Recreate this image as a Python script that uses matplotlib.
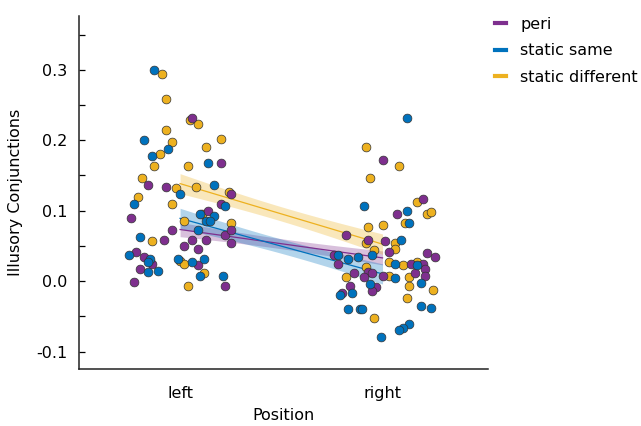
import numpy as np
import matplotlib
matplotlib.use("Agg")
import matplotlib.pyplot as plt
from matplotlib.lines import Line2D

plt.rcParams['font.family'] = ['DejaVu Sans']
plt.rcParams['axes.unicode_minus'] = False

positions = ['left', 'right']
conditions = ['peri', 'static same', 'static different']
colors = {'peri': '#7E2F8E', 'static same': '#0072BD', 'static different': '#EDB120'}

# values: (jitter offset, value) for each subject
peri_left_x = [0.06, 0.20, -0.16, -0.07, 0.25, 0.20, -0.24, 0.14, -0.04, -0.08, 0.22, 0.25,
               0.25, 0.02, 0.06, 0.13, 0.09, 0.09, -0.22, -0.18, -0.14, -0.20, -0.23, 0.22]
peri_left_y = [0.231, 0.167, 0.136, 0.134, 0.124, 0.110, 0.089, 0.099, 0.073, 0.058, 0.066, 0.073,
               0.054, 0.050, 0.059, 0.059, 0.045, 0.023, 0.041, 0.034, 0.025, 0.017, -0.001, -0.007]
peri_right_x = [0.00, 0.20, 0.07, -0.18, -0.07, 0.01, 0.03, 0.22, 0.26, -0.24, -0.22, 0.14, 0.20,
                0.21, 0.21, 0.16, 0.00, -0.07, -0.05, -0.14, -0.09, -0.03, -0.05, -0.16, -0.20]
peri_right_y = [0.172, 0.116, 0.095, 0.065, 0.058, 0.057, 0.042, 0.040, 0.034, 0.037, 0.024, 0.024,
                0.024, 0.017, 0.008, 0.011, 0.007, 0.013, 0.011, 0.011, 0.006, -0.008, -0.014,
                -0.007, -0.017]

same_left_x = [-0.13, -0.18, -0.14, -0.06, 0.14, 0.17, 0.00, 0.22, -0.23, 0.10, 0.17, 0.13, 0.15,
               0.09, -0.20, -0.25, -0.15, -0.16, -0.16, -0.11, -0.01, 0.06, 0.12, 0.10, 0.21]
same_left_y = [0.300, 0.200, 0.177, 0.188, 0.168, 0.136, 0.124, 0.106, 0.110, 0.096, 0.093, 0.085,
               0.085, 0.072, 0.062, 0.037, 0.032, 0.027, 0.013, 0.014, 0.031, 0.027, 0.031, 0.007,
               0.007]
same_right_x = [0.12, -0.09, 0.12, 0.13, 0.09, -0.22, -0.17, -0.12, -0.05, 0.06, 0.17, 0.06, -0.06,
                0.19, -0.15, -0.21, -0.17, -0.11, -0.10, 0.19, 0.24, 0.13, 0.10, 0.08, -0.01]
same_right_y = [0.232, 0.106, 0.100, 0.083, 0.058, 0.037, 0.031, 0.034, 0.037, 0.024, 0.023, 0.004,
                -0.004, -0.003, -0.017, -0.020, -0.040, -0.040, -0.040, -0.035, -0.038, -0.061,
                -0.066, -0.069, -0.079]

diff_left_x = [-0.09, -0.07, 0.05, 0.09, -0.07, -0.04, 0.20, 0.13, -0.10, -0.13, 0.04, -0.19, -0.02,
               0.08, -0.21, 0.24, -0.04, 0.11, 0.02, 0.25, -0.14, 0.00, 0.02, 0.12, 0.04]
diff_left_y = [0.294, 0.259, 0.229, 0.223, 0.215, 0.198, 0.202, 0.190, 0.181, 0.163, 0.163, 0.146,
               0.132, 0.133, 0.119, 0.127, 0.110, 0.095, 0.085, 0.083, 0.057, 0.028, 0.025, 0.011,
               -0.007]
diff_right_x = [-0.08, 0.08, -0.06, 0.17, 0.11, 0.22, 0.24, -0.07, 0.00, -0.08, 0.06, 0.06, -0.04,
                0.03, 0.10, 0.17, -0.08, 0.13, 0.03, -0.18, 0.13, 0.25, 0.12, -0.04]
diff_right_y = [0.190, 0.163, 0.146, 0.112, 0.083, 0.096, 0.098, 0.077, 0.079, 0.054, 0.054, 0.045,
                0.044, 0.027, 0.023, 0.027, 0.020, 0.006, 0.007, 0.006, -0.007, -0.013, -0.024,
                -0.052]

data = {
    'peri': [(peri_left_x, peri_left_y), (peri_right_x, peri_right_y)],
    'static same': [(same_left_x, same_left_y), (same_right_x, same_right_y)],
    'static different': [(diff_left_x, diff_left_y), (diff_right_x, diff_right_y)],
}

fig = plt.figure(figsize=(6.41, 4.26), dpi=100)
ax = fig.add_axes([0.123, 0.134, 0.638, 0.828])

# regression lines with +-1 SE band, fitted on category codes
xs = np.linspace(0, 1, 50)
for cond in conditions:
    xc = np.concatenate([np.zeros(len(data[cond][0][1])), np.ones(len(data[cond][1][1]))])
    yv = np.concatenate([data[cond][0][1], data[cond][1][1]])
    b, a = np.polyfit(xc, yv, 1)
    resid = yv - (a + b * xc)
    s = np.sqrt(np.sum(resid ** 2) / (len(yv) - 2))
    se = s * np.sqrt(1 / len(yv) + (xs - xc.mean()) ** 2 / np.sum((xc - xc.mean()) ** 2))
    fit = a + b * xs
    ax.fill_between(xs, fit - se, fit + se, color=colors[cond], alpha=0.3, lw=0, zorder=1)
    ax.plot(xs, fit, color=colors[cond], lw=0.9, zorder=2)

# points
for cond in ['static different', 'peri', 'static same']:
    for i, (jx, yv) in enumerate(data[cond]):
        ax.scatter(i + np.array(jx), yv, s=40, color=colors[cond], edgecolor='#333333',
                   linewidth=0.5, zorder=3)

ax.set_xlim(-0.5, 1.52)
ax.set_ylim(-0.1245, 0.376)
ax.set_xticks([0, 1])
ax.set_xticklabels(positions)
ax.set_yticks([-0.1, 0.0, 0.1, 0.2, 0.3])
ax.set_yticks(np.arange(-0.05, 0.36, 0.1), minor=True)
ax.set_yticklabels(['-0.1', '0.0', '0.1', '0.2', '0.3'])
ax.tick_params(axis='x', length=0, pad=12.5, labelsize=11.5)
ax.tick_params(axis='y', which='both', direction='in', length=4, width=0.9, labelsize=11.5, pad=8)
for side in ['top', 'right']:
    ax.spines[side].set_visible(False)
for side in ['left', 'bottom']:
    ax.spines[side].set_linewidth(1.1)
    ax.spines[side].set_color('#222222')
ax.set_xlabel('Position', fontsize=11.5, labelpad=5)
ax.set_ylabel('Illusory Conjunctions', fontsize=11.5, labelpad=10)

handles = [Line2D([], [], color=colors[c], lw=3) for c in conditions]
fig.legend(handles, conditions, loc='upper left', bbox_to_anchor=(0.772, 0.961),
           frameon=False, fontsize=11.5, handlelength=0.7, handletextpad=0.9,
           labelspacing=0.72, borderpad=0, borderaxespad=0)

fig.savefig('out.png', dpi=100)
